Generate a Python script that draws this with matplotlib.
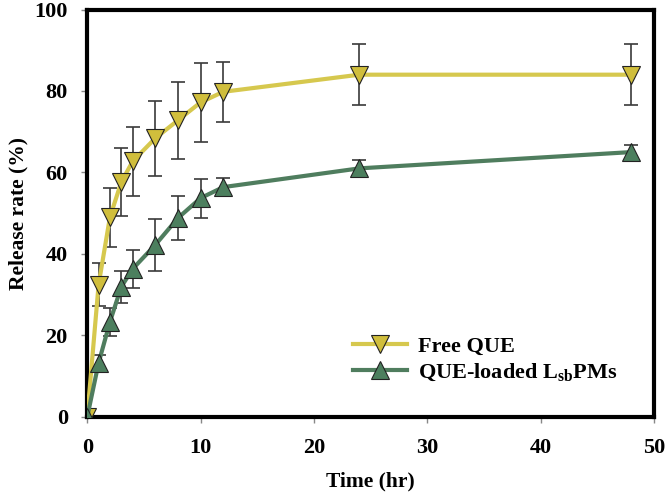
import matplotlib
matplotlib.use("Agg")
import matplotlib.pyplot as plt

plt.rcParams['font.family'] = ['Liberation Serif', 'DejaVu Serif']
plt.rcParams['font.weight'] = 'bold'
plt.rcParams['mathtext.fontset'] = 'custom'
plt.rcParams['mathtext.rm'] = 'Liberation Serif:bold'
plt.rcParams['mathtext.bf'] = 'Liberation Serif:bold'

time_hr = [0, 1, 2, 3, 4, 6, 8, 10, 12, 24, 48]
free_que = [0, 32.4, 49.0, 57.6, 62.7, 68.4, 72.8, 77.2, 79.8, 84.0, 84.0]
free_que_err = [0, 5.3, 7.3, 8.3, 8.5, 9.2, 9.4, 9.7, 7.4, 7.5, 7.5]
loaded_que = [0, 13.2, 23.3, 31.9, 36.3, 42.2, 48.8, 53.7, 56.4, 61.0, 65.0]
loaded_que_err = [0, 2.0, 3.5, 3.9, 4.6, 6.3, 5.4, 4.8, 2.3, 2.0, 1.8]

label_free = 'Free QUE'
label_loaded = r'QUE-loaded L$_{\mathbf{sb}}$PMs'

fig = plt.figure(figsize=(6.66, 5.01), dpi=100)
ax = fig.add_axes([0.131, 0.168, 0.851, 0.813])

ax.errorbar(time_hr, free_que, yerr=free_que_err, fmt='none', ecolor='#3a3a3a',
            elinewidth=1.2, capsize=5, capthick=1.2, zorder=2)
ax.errorbar(time_hr, loaded_que, yerr=loaded_que_err, fmt='none', ecolor='#3a3a3a',
            elinewidth=1.2, capsize=5, capthick=1.2, zorder=2)

ax.plot(time_hr, free_que, color='#D6C84E', lw=3, marker='v', ms=12.5,
        mfc='#D0BE3C', mec='#222222', mew=0.8, label=label_free, zorder=3)
ax.plot(time_hr, loaded_que, color='#4F7D5E', lw=3, marker='^', ms=12.5,
        mfc='#4C7F5E', mec='#222222', mew=0.8, label=label_loaded, zorder=4)

ax.set_xlim(0, 50)
ax.set_ylim(0, 100)
ax.set_xticks([0, 10, 20, 30, 40, 50])
ax.set_yticks([0, 20, 40, 60, 80, 100])

for s in ax.spines.values():
    s.set_linewidth(3)
    s.set_color('black')

ax.tick_params(axis='both', direction='out', length=4, width=1, color='#888888',
               labelsize=16)
ax.tick_params(axis='x', pad=11)
ax.tick_params(axis='y', pad=10)
for lab in ax.get_xticklabels() + ax.get_yticklabels():
    lab.set_fontweight('bold')

ax.set_xlabel('Time (hr)', fontsize=15.5, fontweight='bold', labelpad=10)
ax.set_ylabel('Release rate (%)', fontsize=15.5, fontweight='bold', labelpad=4)

leg = ax.legend(loc='lower left', bbox_to_anchor=(0.453, 0.06), borderaxespad=0,
                frameon=False, fontsize=16, handlelength=2.45,
                handletextpad=0.5, labelspacing=0.2)
for t in leg.get_texts():
    t.set_fontweight('bold')

fig.savefig('out.png', dpi=100)
